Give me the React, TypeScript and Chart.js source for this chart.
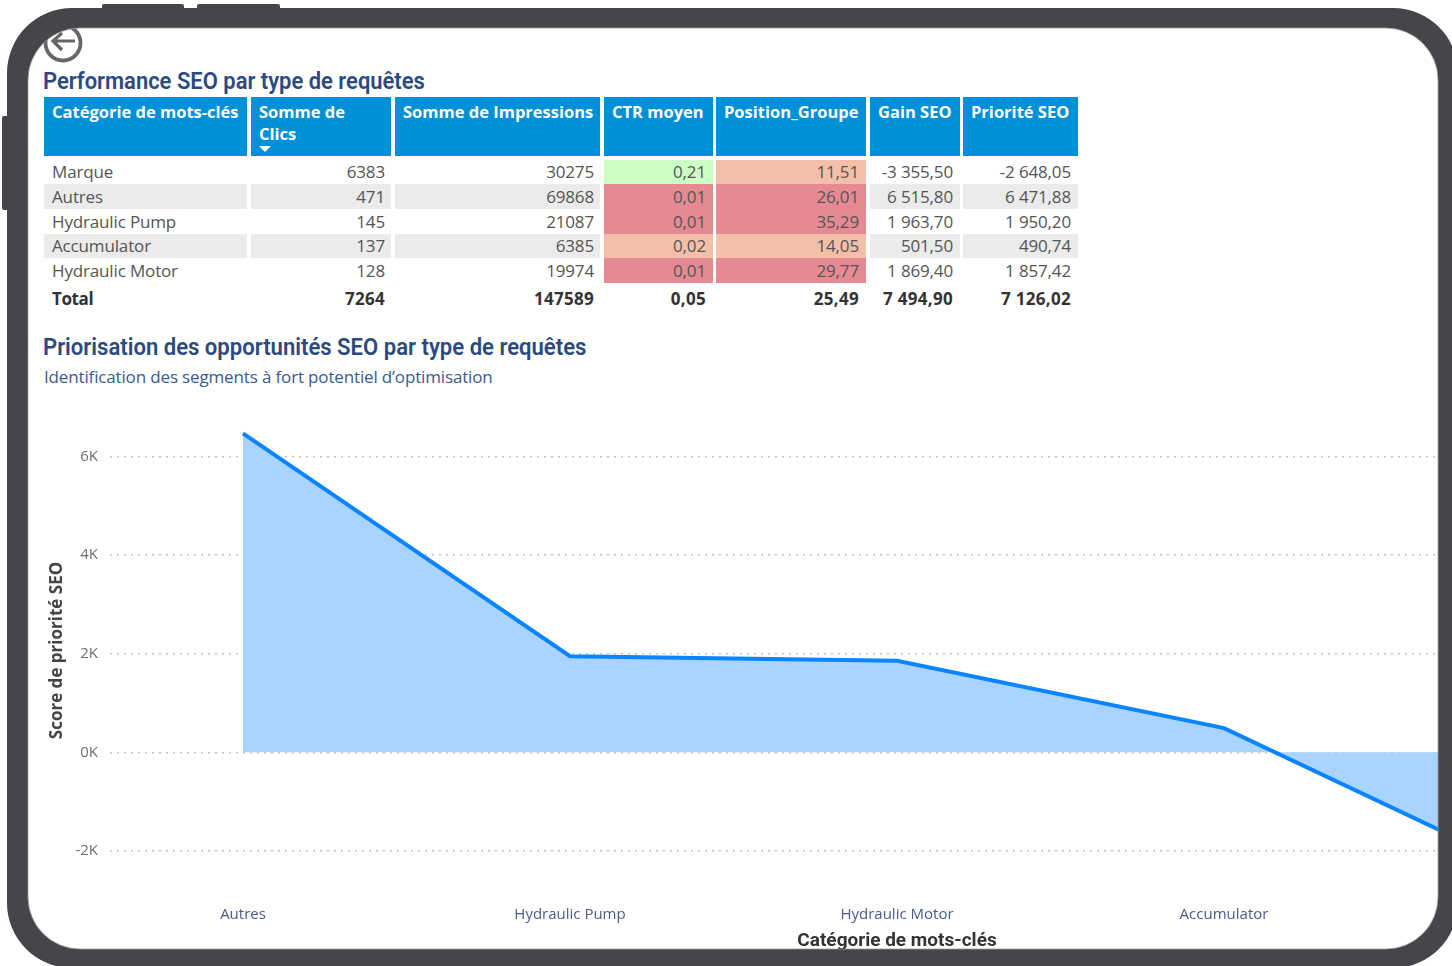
import React, { useEffect, useRef } from "react";
import { Chart, registerables } from "chart.js";

Chart.register(...registerables);

// Chart data
const categories = ["Autres", "Hydraulic Pump", "Hydraulic Motor", "Accumulator", "Marque"];
const priorityScores = [6471.88, 1950.2, 1857.42, 490.74, -2648.05];
const yTicks = [-2000, 0, 2000, 4000, 6000];

// Table data
const tableHeaders = ["Catégorie de mots-clés", "Somme de Clics", "Somme de Impressions", "CTR moyen", "Position_Groupe", "Gain SEO", "Priorité SEO"];
const rowNames = ["Marque", "Autres", "Hydraulic Pump", "Accumulator", "Hydraulic Motor"];
const clicks = ["6383", "471", "145", "137", "128"];
const impressions = ["30275", "69868", "21087", "6385", "19974"];
const ctr = ["0,21", "0,01", "0,01", "0,02", "0,01"];
const positions = ["11,51", "26,01", "35,29", "14,05", "29,77"];
const gains = ["-3 355,50", "6 515,80", "1 963,70", "501,50", "1 869,40"];
const priorities = ["-2 648,05", "6 471,88", "1 950,20", "490,74", "1 857,42"];
const totals = ["Total", "7264", "147589", "0,05", "25,49", "7 494,90", "7 126,02"];

const ctrColors = ["#ccffc4", "#e58a93", "#e58a93", "#f4bfa8", "#e58a93"];
const posColors = ["#f4bfa8", "#e58a93", "#e58a93", "#f4bfa8", "#e58a93"];

const colX = [44, 251, 395, 604, 716, 870, 963];
const colW = [203, 140, 205, 109, 150, 90, 115];
const colPadRight = [7, 6, 6, 7, 7, 7, 7];
const rowTop = [160, 184, 209, 234, 258];
const rowH = [24, 25, 25, 24, 25];

const TABLE_FONT = "'Open Sans', 'Noto Sans', sans-serif";
const TITLE_FONT = "Roboto, sans-serif";

const abs = (x: number, y: number, w: number, h: number): React.CSSProperties => ({
  position: "absolute", left: x, top: y, width: w, height: h, boxSizing: "border-box",
});

function Cell({ x, y, w, h, text, bg, right, bold, padRight }: any) {
  return (
    <div style={{
      ...abs(x, y, w, h), background: bg, lineHeight: h + "px", whiteSpace: "nowrap",
      textAlign: right ? "right" : "left", paddingLeft: 8, paddingRight: padRight,
      fontWeight: bold ? 700 : 400, color: bold ? "#333" : "#555",
      letterSpacing: bold ? (right ? "0.3px" : "-0.4px") : "-0.15px",
    }}>{text}</div>
  );
}

export default function App() {
  const ref = useRef<HTMLCanvasElement>(null);

  useEffect(() => {
    document.body.style.margin = "0";
    const chart = new Chart(ref.current!, {
      type: "line",
      data: {
        datasets: [{
          data: categories.map((_, i) => ({ x: i, y: priorityScores[i] })),
          borderColor: "#0a84ff",
          borderWidth: 4,
          backgroundColor: "#a8d4ff",
          fill: "origin",
          pointRadius: 0,
          tension: 0,
        }],
      },
      options: {
        animation: false,
        responsive: false,
        layout: { padding: { top: 20, left: 0, right: 0, bottom: 0 } },
        plugins: { legend: { display: false }, tooltip: { enabled: false } },
        scales: {
          x: {
            type: "linear",
            min: -0.4067,
            max: 4.4067,
            afterFit: (s: any) => { s.height = 80; },
            afterBuildTicks: (s: any) => { s.ticks = categories.map((_, i) => ({ value: i })); },
            grid: { display: false },
            border: { display: false },
            ticks: {
              autoSkip: false, maxRotation: 0, padding: 18,
              font: { family: "'Open Sans', sans-serif", size: 15 }, color: "#4a5b8c",
              callback: (v: any) => categories[v as number] ?? "",
            },
            title: {
              display: true, text: "Catégorie de mots-clés", color: "#333",
              font: { family: "Roboto, sans-serif", size: 19, weight: "bold" },
              padding: { top: 4, bottom: 7 },
            },
          },
          y: {
            min: -2592,
            max: 6724,
            afterFit: (s: any) => { s.width = 110; },
            afterBuildTicks: (s: any) => { s.ticks = yTicks.map((value) => ({ value })); },
            grid: { color: "#c4c4c4", lineWidth: 1.5, drawTicks: false },
            border: { display: false, dash: [2, 5] },
            ticks: {
              padding: 12,
              font: { family: "'Open Sans', sans-serif", size: 15 }, color: "#6e6e6e",
              callback: (v: any) => `${(v as number) / 1000}K`,
            },
            title: {
              display: true, text: "Score de priorité SEO", color: "#444",
              font: { family: "'Open Sans', sans-serif", size: 17, weight: "bold" },
              padding: { top: 47, bottom: 0 },
            },
          },
        },
      } as any,
    });
    return () => chart.destroy();
  }, []);

  const frame = "#45464a";
  const columns = [rowNames, clicks, impressions, ctr, positions, gains, priorities];

  return (
    <div style={{ position: "fixed", left: 0, top: 0, width: 1452, height: 966, overflow: "hidden", background: "#fff", filter: "blur(0.55px)" }}>
      {/* Table */}
      <div style={{ position: "absolute", left: 0, top: 0, fontFamily: TABLE_FONT, fontSize: 17 }}>
        {tableHeaders.map((h, c) => (
          <div key={h} style={{
            ...abs(colX[c], 97, colW[c], 59), background: "#0090d8", color: "#fff", fontWeight: 700,
            padding: "4px 7px 0 8px", lineHeight: "22px", whiteSpace: "nowrap", fontSize: 16.5,
          }}>
            {c === 1 ? <>Somme de<br />Clics</> : h}
            {c === 1 && <div style={{ width: 0, height: 0, marginTop: 1, marginLeft: 0, borderLeft: "6px solid transparent", borderRight: "6px solid transparent", borderTop: "6px solid #fff" }} />}
          </div>
        ))}
        {rowNames.map((_, r) =>
          columns.map((col, c) => {
            let bg = r % 2 === 1 ? "#ebebeb" : "transparent";
            if (c === 3) bg = ctrColors[r];
            if (c === 4) bg = posColors[r];
            return <Cell key={r + "-" + c} x={colX[c]} y={rowTop[r]} w={colW[c]} h={rowH[r]} text={col[r]} bg={bg} right={c > 0} padRight={colPadRight[c]} />;
          })
        )}
        {totals.map((t, c) => (
          <Cell key={t} x={colX[c]} y={286} w={colW[c]} h={25} text={t} right={c > 0} bold padRight={colPadRight[c]} />
        ))}
      </div>

      {/* Titles */}
      <div style={{ position: "absolute", left: 43, top: 68, fontFamily: TITLE_FONT, fontWeight: 600, fontSize: 23, color: "#2a4a80", whiteSpace: "nowrap", transform: "scaleX(0.955)", transformOrigin: "left" }}>Performance SEO par type de requêtes</div>
      <div style={{ position: "absolute", left: 43, top: 334, fontFamily: TITLE_FONT, fontWeight: 600, fontSize: 23, color: "#2a4a80", whiteSpace: "nowrap", transform: "scaleX(0.96)", transformOrigin: "left" }}>Priorisation des opportunités SEO par type de requêtes</div>
      <div style={{ position: "absolute", left: 44, top: 365, fontFamily: TABLE_FONT, fontSize: 17, letterSpacing: "-0.15px", color: "#3a5a8c", whiteSpace: "nowrap" }}>Identification des segments à fort potentiel d’optimisation</div>

      {/* Chart: the plot runs past the device frame, which hides its right end */}
      <canvas ref={ref} width={1684} height={560} style={{ position: "absolute", left: 0, top: 400, width: 1684, height: 560 }} />

      {/* Back icon */}
      <svg style={{ position: "absolute", left: 42, top: 22 }} width={44} height={44} viewBox="0 0 44 44" fill="none" stroke="#666" strokeWidth={3.8}>
        <circle cx={21} cy={21} r={17.5} />
        <path d="M33 19 H11 M20 11 L11 19 L20 28" strokeWidth={3.2} />
      </svg>

      {/* Device frame */}
      <div style={{ ...abs(102, 4, 82, 6), background: frame, borderRadius: 2 }} />
      <div style={{ ...abs(197, 4, 83, 6), background: frame, borderRadius: 2 }} />
      <div style={{ ...abs(2, 116, 7, 94), background: frame, borderRadius: 2 }} />
      <svg style={{ position: "absolute", left: 0, top: 0 }} width={1452} height={966}>
        <path
          fillRule="evenodd"
          fill={frame}
          d="M72 8 H1393 A65 65 0 0 1 1458 73 V903 A65 65 0 0 1 1393 968 H72 A65 65 0 0 1 7 903 V73 A65 65 0 0 1 72 8 Z
             M80 28 H1386 A52 52 0 0 1 1438 80 V897 A52 52 0 0 1 1386 949 H80 A52 52 0 0 1 28 897 V80 A52 52 0 0 1 80 28 Z"
        />
        <rect x={28} y={28} width={1410} height={921} rx={52} fill="none" stroke="#9a9a9a" strokeWidth={0.8} />
      </svg>
    </div>
  );
}
